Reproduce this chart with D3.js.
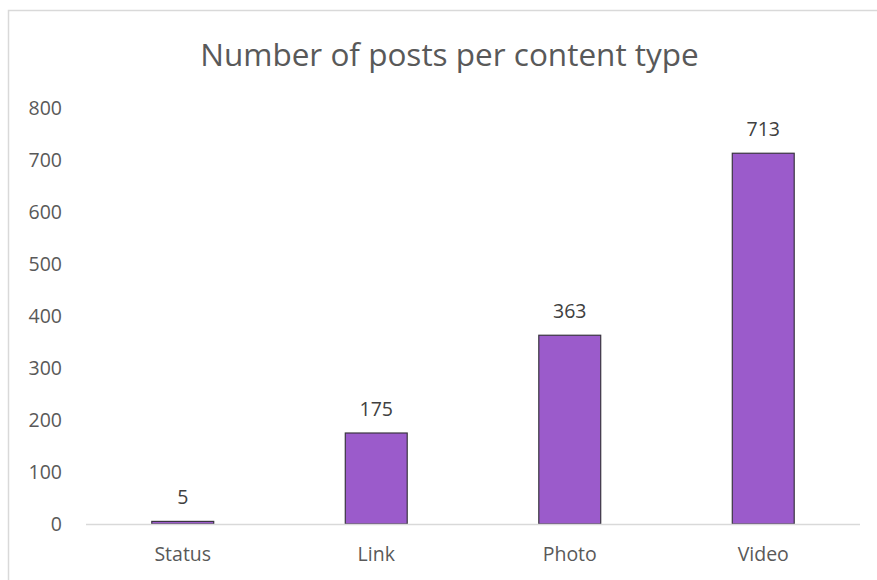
<!DOCTYPE html>
<html><head><meta charset="utf-8">
<script src="https://cdn.jsdelivr.net/npm/d3@7"></script>
<style>body{margin:0;background:#fff}svg{display:block}text{font-family:"Open Sans","Noto Sans",sans-serif}</style>
</head><body><svg id="c" width="877" height="580"></svg>
<script>
const categories = ["Status","Link","Photo","Video"];
const values = [5,175,363,713];
const yTicks = [0,100,200,300,400,500,600,700,800];
const title = "Number of posts per content type";

const svg = d3.select("#c");
svg.append("rect").attr("x",8.5).attr("y",10.5).attr("width",900).attr("height",600)
  .attr("fill","#fff").attr("stroke","#d9d9d9").attr("stroke-width",1.5);

const x = d3.scaleBand().domain(categories).range([86,860]).paddingInner(0.68).paddingOuter(0.34);
const y = d3.scaleLinear().domain([0,800]).range([524,108]);

svg.append("text").attr("x",449.5).attr("y",66).attr("text-anchor","middle")
  .attr("font-size",31.5).attr("fill","#595959").text(title);

const ya = svg.append("g").attr("transform","translate(62,0)")
  .call(d3.axisLeft(y).tickValues(yTicks).tickSize(0).tickPadding(0));
ya.select(".domain").remove();
ya.selectAll("text").attr("font-size",19.5).attr("fill","#595959");

svg.selectAll("rect.bar").data(values).join("rect").attr("class","bar")
  .attr("x",(d,i)=>x(categories[i])).attr("width",x.bandwidth())
  .attr("y",d=>y(d)).attr("height",d=>y(0)-y(d))
  .attr("fill","#9b5bcb").attr("stroke","#3a3540").attr("stroke-width",1.2);

svg.append("line").attr("x1",86).attr("x2",860).attr("y1",524.5).attr("y2",524.5)
  .attr("stroke","#d9d9d9").attr("stroke-width",1.5);

const xa = svg.append("g").attr("transform","translate(0,524)")
  .call(d3.axisBottom(x).tickSize(0).tickPadding(23));
xa.select(".domain").remove();
xa.selectAll("text").attr("font-size",19.5).attr("fill","#595959");

svg.selectAll("text.lbl").data(values).join("text").attr("class","lbl")
  .attr("x",(d,i)=>x(categories[i])+x.bandwidth()/2).attr("y",d=>y(d)-17)
  .attr("text-anchor","middle").attr("font-size",19.5).attr("fill","#404040").text(d=>d);
</script></body></html>
